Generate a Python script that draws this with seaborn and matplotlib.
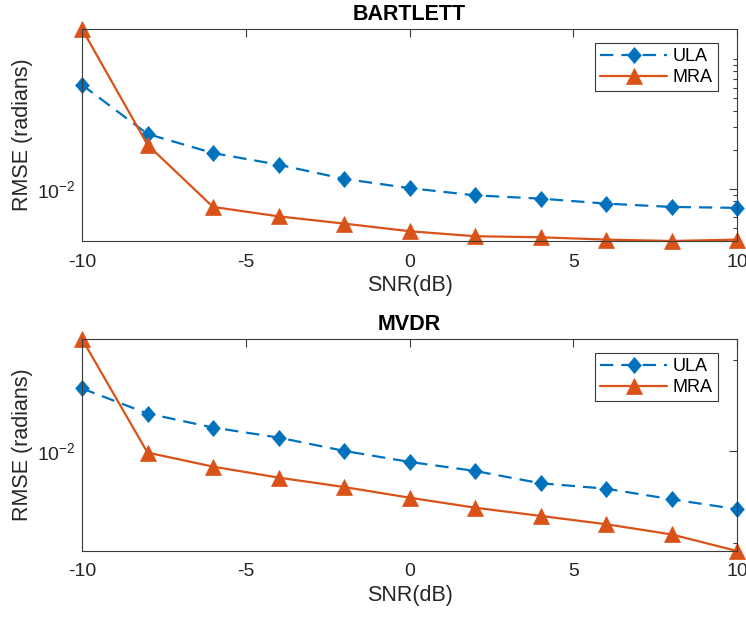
import numpy as np
import pandas as pd
import matplotlib
matplotlib.use("Agg")
import matplotlib.pyplot as plt
from matplotlib.path import Path
from matplotlib.ticker import FixedLocator, NullFormatter, LogFormatterSciNotation
import seaborn as sns

# ---- data ----
snr = [-10, -8, -6, -4, -2, 0, 2, 4, 6, 8, 10]
series = ["ULA", "MRA"]
bartlett_ula = [0.0631, 0.0264, 0.0188, 0.0153, 0.0119, 0.0101, 0.00888, 0.00838, 0.00767, 0.00723, 0.00711]
bartlett_mra = [0.170, 0.0218, 0.00723, 0.00612, 0.00538, 0.00470, 0.00430, 0.00422, 0.00405, 0.00395, 0.00405]
mvdr_ula = [0.0485, 0.0258, 0.01814, 0.01409, 0.01008, 0.00763, 0.00608, 0.00446, 0.00389, 0.00298, 0.00232]
mvdr_mra = [0.1685, 0.00965, 0.00678, 0.00514, 0.00406, 0.00310, 0.00241, 0.00196, 0.00159, 0.00123, 0.00081]
titles = ["BARTLETT", "MVDR"]
xticks = [-10, -5, 0, 5, 10]

sns.set_theme(style="white")
plt.rcParams["font.family"] = ["Liberation Sans", "DejaVu Sans"]
plt.rcParams["axes.unicode_minus"] = False
plt.rcParams["mathtext.default"] = "regular"

c_ula = "#0072BD"
c_mra = "#D95319"
txt = "#262626"
edge = "#3a3a3a"

diamond = Path([(0, 1), (0.86, 0), (0, -1), (-0.86, 0), (0, 1)],
               [Path.MOVETO, Path.LINETO, Path.LINETO, Path.LINETO, Path.CLOSEPOLY])

fig = plt.figure(figsize=(7.46, 6.19), dpi=100)
ax1 = fig.add_axes([82 / 746, 1 - 241 / 619, 655 / 746, 212 / 619])
ax2 = fig.add_axes([82 / 746, 1 - 551 / 619, 655 / 746, 212 / 619])

datasets = [(bartlett_ula, bartlett_mra), (mvdr_ula, mvdr_mra)]
minor_sets = [
    [4e-3, 5e-3, 6e-3, 7e-3, 8e-3, 9e-3, 2e-2, 3e-2, 4e-2, 5e-2, 6e-2, 7e-2, 8e-2, 9e-2, 1e-1],
    [1e-3, 1e-1],
]

for ax, (ula, mra), title, minors in zip([ax1, ax2], datasets, titles, minor_sets):
    df = pd.DataFrame({"SNR": snr + snr,
                       "RMSE": ula + mra,
                       "Array": [series[0]] * len(snr) + [series[1]] * len(snr)})
    d_ula = df[df["Array"] == "ULA"]
    d_mra = df[df["Array"] == "MRA"]
    sns.lineplot(data=d_ula, x="SNR", y="RMSE", ax=ax, color=c_ula, lw=1.6,
                 linestyle=(0, (6, 3.6)), marker=diamond, markersize=11.5,
                 markeredgecolor=c_ula, markeredgewidth=0.5, label="ULA", clip_on=False)
    sns.lineplot(data=d_mra, x="SNR", y="RMSE", ax=ax, color=c_mra, lw=1.6,
                 marker="^", markersize=11, markeredgecolor=c_mra, markeredgewidth=0.5,
                 label="MRA", clip_on=False)
    ax.set_yscale("log")
    allv = ula + mra
    ax.set_ylim(min(allv), max(allv))
    ax.set_xlim(-10, 10)
    ax.set_xticks(xticks)
    ax.set_xticklabels([str(t) for t in xticks])
    ax.yaxis.set_major_locator(FixedLocator([1e-2]))
    ax.yaxis.set_major_formatter(LogFormatterSciNotation())
    ax.yaxis.set_minor_locator(FixedLocator(minors))
    ax.yaxis.set_minor_formatter(NullFormatter())
    ax.tick_params(axis="both", which="both", direction="in", top=True, right=True,
                   colors=edge, labelcolor=txt, labelsize=14, width=0.8)
    ax.tick_params(axis="both", which="major", length=5.5)
    ax.tick_params(axis="y", which="minor", length=3.2)
    ax.tick_params(axis="x", which="major", pad=9)
    ax.tick_params(axis="y", which="major", pad=4.5)
    for s in ax.spines.values():
        s.set_color(edge)
        s.set_linewidth(0.8)
    ax.set_xlabel("SNR(dB)", fontsize=15.5, color=txt, labelpad=3.5)
    ax.set_ylabel("RMSE (radians)", fontsize=15.5, color=txt, labelpad=3)
    ax.set_title(title, fontsize=15.5, fontweight="bold", color="black", pad=6.5)
    leg = ax.legend(loc="upper right", bbox_to_anchor=(1 - 19 / 655, 1 - 14 / 212),
                    borderaxespad=0, fontsize=13, frameon=True, fancybox=False,
                    framealpha=1, edgecolor=edge, handlelength=3.7, handletextpad=0.3,
                    labelspacing=0.2, borderpad=0.3, numpoints=1)
    leg.get_frame().set_linewidth(0.8)
    for t in leg.get_texts():
        t.set_color("black")

fig.savefig("out.png", dpi=100)
